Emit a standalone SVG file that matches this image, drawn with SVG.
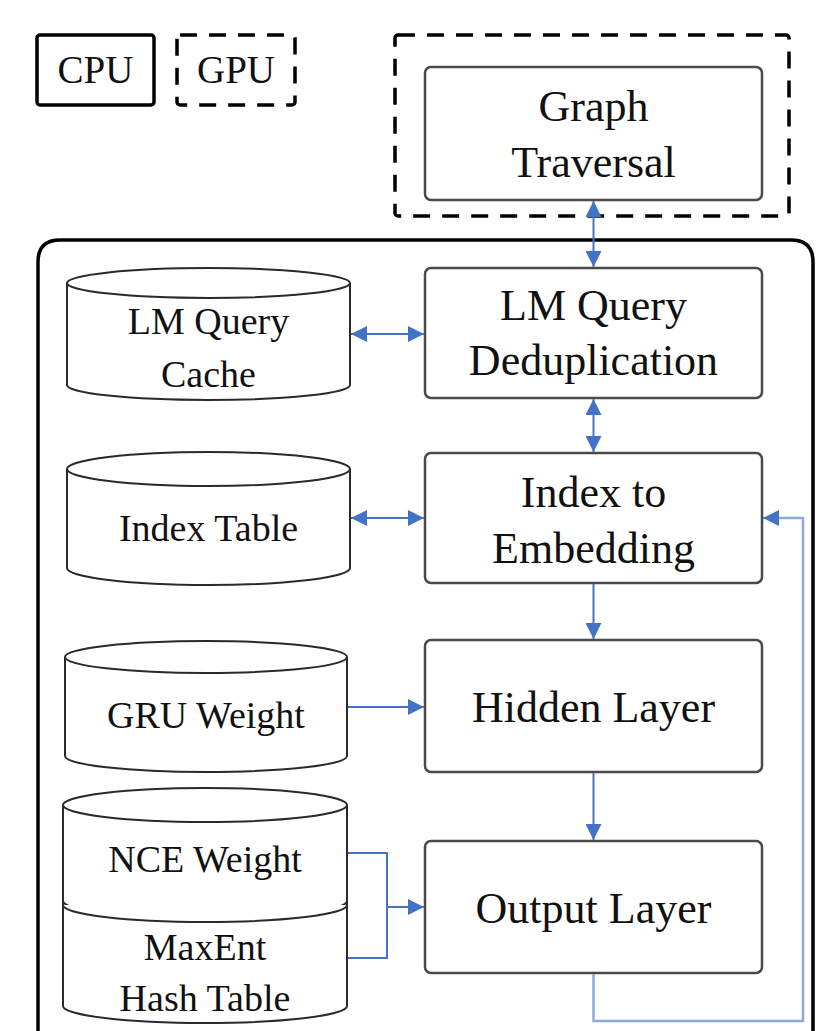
<svg xmlns="http://www.w3.org/2000/svg" width="818" height="1031" viewBox="0 0 818 1031">
  <style>
    text { font-family: "Liberation Serif", "Times New Roman", serif; fill: #111; text-anchor: middle; }
    .big { font-size: 44px; }
    .mid { font-size: 38px; }
    .leg { font-size: 39px; }
    .box { fill: #fff; stroke: #4a4a4a; stroke-width: 2.5; }
    .cyl { fill: #fff; stroke: #2a2a2a; stroke-width: 2; }
    .frame { fill: none; stroke: #000; stroke-width: 3.5; }
    .dash { fill: none; stroke: #000; stroke-width: 3.5; stroke-dasharray: 17 12; }
    .link { fill: none; stroke: #4472c4; stroke-width: 2; }
    .loop { fill: none; stroke: #8eaadc; stroke-width: 2.5; }
  </style>
  <defs>
    <marker id="head" viewBox="0 0 10 10" refX="10" refY="5" markerWidth="16" markerHeight="16" markerUnits="userSpaceOnUse" orient="auto-start-reverse">
      <path d="M0,0 L10,5 L0,10 z" fill="#4472c4"/>
    </marker>
  </defs>

  <!-- legend -->
  <g id="legend-cpu">
    <rect class="frame" x="37" y="35" width="117" height="70" rx="3"/>
    <text class="leg" x="95.5" y="83">CPU</text>
  </g>
  <g id="legend-gpu">
    <rect class="dash" x="177" y="35" width="118" height="70" rx="3"/>
    <text class="leg" x="236" y="83">GPU</text>
  </g>

  <!-- GPU region with graph traversal -->
  <g id="gpu-region">
    <rect class="dash" x="395" y="35" width="394" height="181" rx="3"/>
  </g>
  <g id="graph-traversal">
    <rect class="box" x="425" y="67" width="337" height="133" rx="6"/>
    <text class="big" x="593.5" y="121">Graph</text>
    <text class="big" x="593.5" y="177">Traversal</text>
  </g>

  <!-- CPU region frame (open at the bottom) -->
  <g id="cpu-region">
    <path class="frame" d="M38,1040 L38,262 Q38,240 60,240 L791,240 Q813,240 813,262 L813,1040"/>
  </g>

  <!-- processing stages -->
  <g id="lm-query-dedup">
    <rect class="box" x="425" y="268" width="337" height="130" rx="6"/>
    <text class="big" x="593.5" y="320">LM Query</text>
    <text class="big" x="593.5" y="375">Deduplication</text>
  </g>
  <g id="index-to-embedding">
    <rect class="box" x="425" y="453" width="337" height="130" rx="6"/>
    <text class="big" x="593.5" y="507">Index to</text>
    <text class="big" x="593.5" y="563">Embedding</text>
  </g>
  <g id="hidden-layer">
    <rect class="box" x="425" y="640" width="337" height="132" rx="6"/>
    <text class="big" x="593.5" y="722">Hidden Layer</text>
  </g>
  <g id="output-layer">
    <rect class="box" x="425" y="841" width="337" height="132" rx="6"/>
    <text class="big" x="593.5" y="923">Output Layer</text>
  </g>

  <!-- data stores -->
  <g id="lm-query-cache">
    <path class="cyl" d="M67,283 L67,385 A141.5,15 0 0 0 350,385 L350,283"/>
    <ellipse class="cyl" cx="208.5" cy="283" rx="141.5" ry="15"/>
    <text class="mid" x="208.5" y="334">LM Query</text>
    <text class="mid" x="208.5" y="387">Cache</text>
  </g>
  <g id="index-table">
    <path class="cyl" d="M67,469 L67,568 A141.5,17 0 0 0 350,568 L350,469"/>
    <ellipse class="cyl" cx="208.5" cy="469" rx="141.5" ry="17"/>
    <text class="mid" x="208.5" y="541">Index Table</text>
  </g>
  <g id="gru-weight">
    <path class="cyl" d="M65,657 L65,756 A141,16 0 0 0 347,756 L347,657"/>
    <ellipse class="cyl" cx="206" cy="657" rx="141" ry="16"/>
    <text class="mid" x="206" y="728">GRU Weight</text>
  </g>
  <g id="nce-maxent">
    <path class="cyl" d="M63,805 L63,1006 A142,17 0 0 0 347,1006 L347,805"/>
    <ellipse class="cyl" cx="205" cy="805" rx="142" ry="17"/>
    <path class="cyl" d="M63,901 A142,17 0 0 0 347,901" fill="none"/>
    <path class="cyl" d="M63,905 A142,17 0 0 0 347,905" fill="none"/>
    <text class="mid" x="205" y="872">NCE Weight</text>
    <text class="mid" x="205" y="960">MaxEnt</text>
    <text class="mid" x="205" y="1011">Hash Table</text>
  </g>

  <!-- connectors -->
  <g id="connectors">
    <line class="link" x1="593.5" y1="201" x2="593.5" y2="267" marker-start="url(#head)" marker-end="url(#head)"/>
    <line class="link" x1="593.5" y1="399" x2="593.5" y2="452" marker-start="url(#head)" marker-end="url(#head)"/>
    <line class="link" x1="593.5" y1="584" x2="593.5" y2="639" marker-end="url(#head)"/>
    <line class="link" x1="593.5" y1="773" x2="593.5" y2="840" marker-end="url(#head)"/>
    <line class="link" x1="351" y1="334" x2="424" y2="334" marker-start="url(#head)" marker-end="url(#head)"/>
    <line class="link" x1="351" y1="518" x2="424" y2="518" marker-start="url(#head)" marker-end="url(#head)"/>
    <line class="link" x1="348" y1="707" x2="424" y2="707" marker-end="url(#head)"/>
    <polyline class="link" points="348,853 387,853 387,958 348,958"/>
    <line class="link" x1="387" y1="907" x2="424" y2="907" marker-end="url(#head)"/>
    <polyline class="loop" points="593.5,974 593.5,1021 803,1021 803,518 775,518"/>
    <line class="link" x1="776" y1="518" x2="763" y2="518" marker-end="url(#head)"/>
  </g>
</svg>
